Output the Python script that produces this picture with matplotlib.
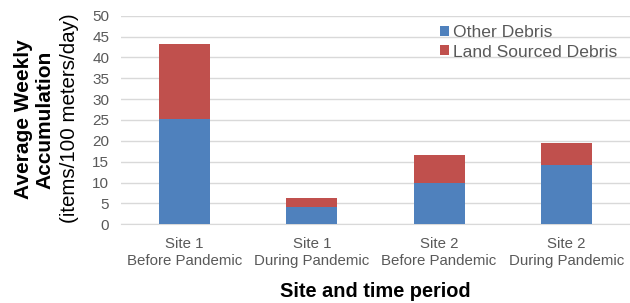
import matplotlib.pyplot as plt
import numpy as np

plt.rcParams['font.family'] = ['Liberation Sans', 'DejaVu Sans']

categories = ['Site 1\nBefore Pandemic', 'Site 1\nDuring Pandemic',
              'Site 2\nBefore Pandemic', 'Site 2\nDuring Pandemic']
other_debris = [25.2, 4.1, 9.8, 14.3]
land_debris = [18.0, 2.3, 6.7, 5.3]

blue = '#4F81BD'
red = '#C0504D'
grey = '#595959'

fig = plt.figure(figsize=(6.3, 3.03), dpi=100)
ax = fig.add_axes([0.192, 0.26, 0.808, 0.688])

x = np.arange(len(categories))
ax.bar(x, other_debris, width=0.4, color=blue, label='Other Debris', zorder=3)
ax.bar(x, land_debris, width=0.4, bottom=other_debris, color=red,
       label='Land Sourced Debris', zorder=3)

ax.set_xlim(-0.5, 3.5)
ax.set_ylim(0, 50)
ax.set_yticks(range(0, 51, 5))
ax.yaxis.grid(True, color='#D9D9D9', linewidth=1, zorder=0)
for s in ['top', 'right', 'left']:
    ax.spines[s].set_visible(False)
ax.spines['bottom'].set_color('#D9D9D9')
ax.tick_params(axis='both', length=0, colors=grey)
ax.tick_params(axis='y', pad=8.5, labelsize=11)
ax.tick_params(axis='x', pad=9.5)
ax.set_xticks(x)
ax.set_xticklabels(categories, fontsize=10.8, linespacing=1.22)

ax.set_xlabel('Site and time period', fontsize=14.4, fontweight='bold',
              labelpad=10.5)

fig.text(0.037, 0.607, 'Average Weekly', rotation=90, fontsize=15,
         fontweight='bold', ha='center', va='center')
fig.text(0.072, 0.604, 'Accumulation', rotation=90, fontsize=15,
         fontweight='bold', ha='center', va='center')
fig.text(0.111, 0.61, '(items/100 meters/day)', rotation=90, fontsize=14.8,
         ha='center', va='center')

leg = ax.legend(loc='upper right', bbox_to_anchor=(0.975, 0.955), frameon=False,
                fontsize=12.6, handlelength=0.5, handleheight=0.5,
                handletextpad=0.25, labelspacing=0.26, labelcolor=grey,
                borderpad=0, borderaxespad=0)

fig.savefig('out.png', dpi=100)
